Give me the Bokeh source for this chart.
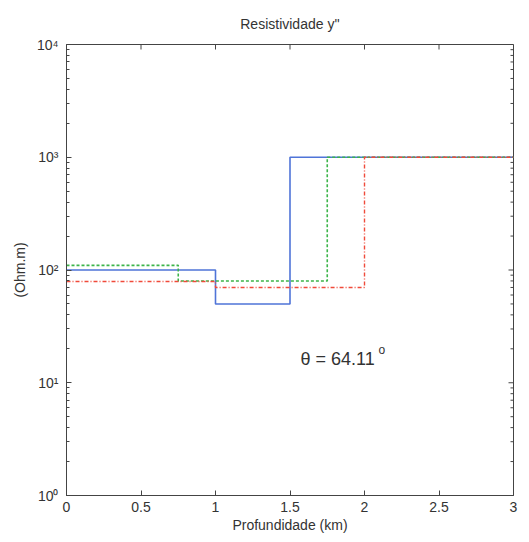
import math
from bokeh.plotting import figure
from bokeh.models import FixedTicker, Range1d
from bokeh.embed import file_html
from bokeh.resources import INLINE
from bokeh.core.properties import value

# Layer models: depth boundaries (km) and resistivities (Ohm.m)
depth_blue = [0, 1.0, 1.5, 3.0]
rho_blue = [100, 50, 1000, 1000]
depth_green = [0, 0.75, 1.75, 3.0]
rho_green = [110, 80, 1000, 1000]
depth_red = [0, 1.0, 2.0, 3.0]
rho_red = [79, 70, 1000, 1000]

x_ticks = [0, 0.5, 1, 1.5, 2, 2.5, 3]
x_tick_labels = ["0", "0.5", "1", "1.5", "2", "2.5", "3"]
y_ticks = [1, 10, 100, 1000, 10000]
y_tick_labels = ["10⁰", "10¹", "10²", "10³", "10⁴"]
y_minor = [m * d for d in [1, 10, 100, 1000] for m in range(2, 10)]

annot_x = [1.57]
annot_y = [16.2]
annot_text = ["θ = 64.11"]

FONT = "Liberation Sans"
TXT = "#333333"
FRAME = "#444444"

X0, X1 = 0, 3
Y0, Y1 = 1, 10000

p = figure(width=529, height=542, output_backend="svg", toolbar_location=None,
           y_axis_type="log", x_range=Range1d(X0, X1), y_range=Range1d(Y0, Y1),
           min_border_left=66, min_border_right=16, min_border_top=42, min_border_bottom=47)
p.title.text = "Resistividade y''"
p.title.align = "center"
p.title.text_font = FONT
p.title.text_font_size = "14px"
p.title.text_font_style = "normal"
p.title.text_color = TXT
p.title.offset = 0
p.title.standoff = 26

p.grid.visible = False
p.outline_line_color = FRAME
p.outline_line_width = 1
p.background_fill_color = "white"
p.border_fill_color = "white"

def style(ax):
    ax.axis_line_color = FRAME
    ax.major_tick_line_color = FRAME
    ax.minor_tick_line_color = FRAME
    ax.major_tick_in = 5
    ax.major_tick_out = 0
    ax.minor_tick_in = 3
    ax.minor_tick_out = 0
    ax.major_label_text_font = FONT
    ax.major_label_text_font_size = "14px"
    ax.major_label_text_color = TXT
    ax.axis_label_text_font = FONT
    ax.axis_label_text_font_size = "14px"
    ax.axis_label_text_font_style = "normal"
    ax.axis_label_text_color = TXT

xa = p.xaxis[0]
ya = p.yaxis[0]
xa.ticker = FixedTicker(ticks=x_ticks)
xa.major_label_overrides = dict(zip(x_ticks, x_tick_labels))
ya.ticker = FixedTicker(ticks=y_ticks, minor_ticks=y_minor)
ya.major_label_overrides = dict(zip(y_ticks, y_tick_labels))
style(xa); style(ya)
xa.axis_label = "Profundidade (km)"
xa.major_label_standoff = 6
xa.axis_label_standoff = 2
ya.axis_label = "(Ohm.m)"
ya.major_label_standoff = 8
ya.axis_label_standoff = 6

# inward ticks on top and right edges of the box
p.ray(x=x_ticks, y=[Y1] * len(x_ticks), length=5, length_units="screen",
      angle=-math.pi / 2, line_color=FRAME, line_width=1)
p.ray(x=[X1] * len(y_ticks), y=y_ticks, length=5, length_units="screen",
      angle=math.pi, line_color=FRAME, line_width=1)
p.ray(x=[X1] * len(y_minor), y=y_minor, length=3, length_units="screen",
      angle=math.pi, line_color=FRAME, line_width=1)

p.step(depth_blue, rho_blue, mode="after", line_color="#4f74d8", line_width=1.6)
p.step(depth_green, rho_green, mode="after", line_color="#3cb44a", line_width=1.6, line_dash="3 2")
p.step(depth_red, rho_red, mode="after", line_color="#f04a3a", line_width=1.4, line_dash="4 2 1 2")

p.text(x=annot_x, y=annot_y, text=annot_text, text_font=value(FONT), text_font_size="18px",
       text_color=TXT, text_baseline="middle", text_align="left")
p.text(x=annot_x, y=annot_y, text=["o"], text_font=value(FONT), text_font_size="12px",
       text_color=TXT, text_baseline="middle", text_align="left", x_offset=78, y_offset=-9)

open("out.html", "w").write(file_html(p, INLINE))
